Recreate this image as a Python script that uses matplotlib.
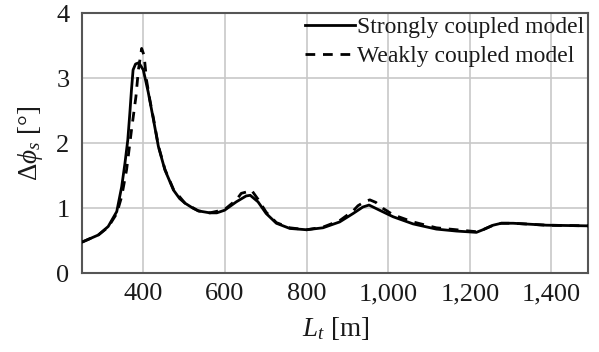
import matplotlib
matplotlib.use("Agg")
import matplotlib.pyplot as plt

plt.rcParams['font.family'] = ['Liberation Serif', 'DejaVu Serif']
plt.rcParams['mathtext.fontset'] = 'custom'
plt.rcParams['mathtext.rm'] = 'Liberation Serif'
plt.rcParams['mathtext.it'] = 'Liberation Serif:italic'

# Data
strong_x = [250, 290, 314, 335, 347, 355, 362, 367, 371, 375, 381, 389, 400, 412,
            425, 437, 453, 474, 489, 502, 522, 535, 563, 580, 599, 628, 652, 662,
            681, 701, 726, 759, 800, 840, 881, 914, 938, 953, 979, 1012, 1061,
            1118, 1167, 1216, 1232, 1257, 1277, 1306, 1388, 1490]
strong_y = [0.48, 0.59, 0.72, 0.95, 1.33, 1.69, 2.05, 2.46, 2.82, 3.13, 3.22, 3.24, 3.13, 2.79,
            2.36, 1.95, 1.59, 1.28, 1.15, 1.08, 1.00, 0.96, 0.93, 0.93, 0.97, 1.10, 1.19, 1.20,
            1.10, 0.92, 0.77, 0.69, 0.67, 0.70, 0.79, 0.92, 1.02, 1.05, 0.97, 0.87, 0.76,
            0.68, 0.65, 0.63, 0.67, 0.74, 0.77, 0.77, 0.74, 0.73]

weak_x = [250, 290, 314, 335, 347, 359, 371, 382, 388, 396, 402, 408, 416, 425,
          437, 453, 474, 502, 535, 563, 599, 628, 640, 652, 665, 681, 701, 726,
          759, 800, 840, 881, 914, 926, 942, 955, 970, 987, 1012, 1061, 1118,
          1167, 1216, 1232, 1257, 1277, 1306, 1388, 1490]
weak_y = [0.48, 0.59, 0.71, 0.92, 1.18, 1.59, 2.20, 2.72, 3.13, 3.46, 3.35, 2.97, 2.67, 2.38,
          1.96, 1.60, 1.29, 1.08, 0.96, 0.93, 0.98, 1.13, 1.23, 1.25, 1.28, 1.14, 0.94, 0.78,
          0.70, 0.67, 0.71, 0.81, 0.96, 1.04, 1.10, 1.13, 1.09, 1.00, 0.90, 0.79, 0.70,
          0.67, 0.64, 0.67, 0.74, 0.77, 0.77, 0.74, 0.73]

x_ticks = [400, 600, 800, 1000, 1200, 1400]
x_ticklabels = ['400', '600', '800', '1,000', '1,200', '1,400']
y_ticks = [0, 1, 2, 3, 4]

fig = plt.figure(figsize=(5.99, 3.52), dpi=100)
ax = fig.add_axes([0.137, 0.2236, 0.845, 0.7385])

ax.plot(strong_x, strong_y, color='black', lw=2.0, label='Strongly coupled model', zorder=3)
ax.plot(weak_x, weak_y, color='black', lw=2.0, linestyle=(0, (3.5, 2.8)),
        label='Weakly coupled model', zorder=3)

ax.set_xlim(250, 1490)
ax.set_ylim(0, 4)
ax.set_xticks(x_ticks)
ax.set_xticklabels(x_ticklabels)
ax.set_yticks(y_ticks)
ax.tick_params(axis='both', length=0, labelsize=19, colors='#1a1a1a')
ax.tick_params(axis='x', pad=7)
ax.tick_params(axis='y', pad=9)
ax.grid(True, color='#c8c8c8', lw=1.2, zorder=0)
ax.set_axisbelow(True)
for s in ax.spines.values():
    s.set_color('#555555')
    s.set_linewidth(1.5)

ax.set_xlabel(r'$L_t$ [m]', fontsize=19.5, labelpad=7, color='#1a1a1a')
ax.set_ylabel(r'$\Delta\phi_s$ [°]', fontsize=19.5, labelpad=8, color='#1a1a1a')

leg = ax.legend(loc='upper right', frameon=False, fontsize=17, handlelength=2.1,
                handletextpad=0.1, labelspacing=0.3, borderaxespad=0.0,
                bbox_to_anchor=(1.0, 1.0), borderpad=0.15)
for t in leg.get_texts():
    t.set_color('#1a1a1a')

fig.savefig('out.png', dpi=100)
